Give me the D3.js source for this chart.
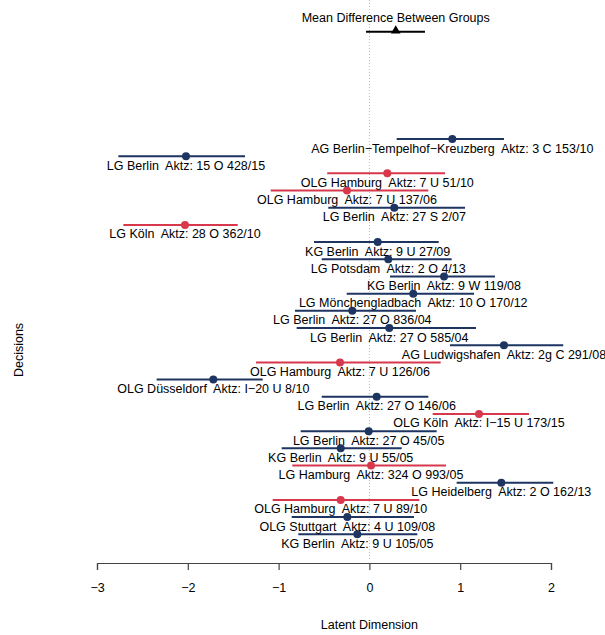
<!DOCTYPE html>
<html>
<head>
<meta charset="utf-8">
<script src="https://cdn.jsdelivr.net/npm/d3@7"></script>
<style>
  body { margin: 0; background: #fff; }
  svg text { font-family: "Liberation Sans", Arial, Helvetica, sans-serif; }
</style>
</head>
<body>
<svg id="chart" width="605" height="635"></svg>
<script>
// Court decisions, top to bottom
const courts = [
  "AG Berlin−Tempelhof−Kreuzberg", "LG Berlin", "OLG Hamburg", "OLG Hamburg",
  "LG Berlin", "LG Köln", "KG Berlin", "LG Potsdam", "KG Berlin",
  "LG Mönchengladbach", "LG Berlin", "LG Berlin", "AG Ludwigshafen",
  "OLG Hamburg", "OLG Düsseldorf", "LG Berlin", "OLG Köln", "LG Berlin",
  "KG Berlin", "LG Hamburg", "LG Heidelberg", "OLG Hamburg", "OLG Stuttgart",
  "KG Berlin"
];
const fileNumbers = [
  "3 C 153/10", "15 O 428/15", "7 U 51/10", "7 U 137/06", "27 S 2/07",
  "28 O 362/10", "9 U 27/09", "2 O 4/13", "9 W 119/08", "10 O 170/12",
  "27 O 836/04", "27 O 585/04", "2g C 291/08", "7 U 126/06", "I−20 U 8/10",
  "27 O 146/06", "I−15 U 173/15", "27 O 45/05", "9 U 55/05", "324 O 993/05",
  "2 O 162/13", "7 U 89/10", "4 U 109/08", "9 U 105/05"
];
// Group membership: 1 = second group (red), 0 = first group (navy)
const group = [0, 0, 1, 1, 0, 1, 0, 0, 0, 0, 0, 0, 0, 1, 0, 0, 1, 0, 0, 1, 0, 1, 0, 0];
// Latent position estimates with interval bounds
const estimate = [
  0.913, -2.020, 0.197, -0.247, 0.274, -2.031, 0.091, 0.208, 0.822, 0.483,
  -0.188, 0.219, 1.482, -0.324, -1.719, 0.080, 1.207, -0.008, -0.316, 0.018,
  1.453, -0.316, -0.243, -0.133
];
const lower = [
  0.300, -2.765, -0.464, -1.087, -0.453, -2.710, -0.610, -0.525, 0.227, -0.250,
  -0.819, -0.801, 0.888, -1.249, -2.343, -0.525, 0.697, -0.757, -0.966, -0.849,
  0.961, -1.065, -0.856, -0.783
];
const upper = [
  1.482, -1.370, 0.833, 0.649, 1.053, -1.450, 0.763, 0.906, 1.383, 1.152,
  0.513, 1.174, 2.135, 0.785, -1.175, 0.649, 1.758, 0.741, 0.356, 0.844,
  2.025, 0.550, 0.491, 0.528
];
// Mean difference between the groups
const meanDiff = [0.290];
const meanDiffLower = [-0.037];
const meanDiffUpper = [0.612];
const xTicks = [-3, -2, -1, 0, 1, 2];

const groupColors = ["#1d3560", "#d7384c"];
const fontSize = 12.5;

const svg = d3.select("#chart");
const n = courts.length;

const x = d3.scaleLinear().domain([-3, 2]).range([97, 551]);
// rows numbered from the bottom; the summary row sits above them
const y = d3.scaleLinear().domain([1, n]).range([534.3, 139]);
const summaryRow = n + 6.24;

const rows = d3.range(n).map(i => ({
  court: courts[i], file: fileNumbers[i], g: group[i],
  est: estimate[i], lo: lower[i], hi: upper[i], pos: n - i
}));

// zero reference line
svg.append("line")
  .attr("x1", x(0)).attr("x2", x(0))
  .attr("y1", 0).attr("y2", 560)
  .attr("stroke", "#b8b8b8").attr("stroke-width", 1)
  .attr("stroke-dasharray", "1,2");

// intervals
svg.append("g").selectAll("line").data(rows).join("line")
  .attr("x1", d => x(d.lo)).attr("x2", d => x(d.hi))
  .attr("y1", d => y(d.pos)).attr("y2", d => y(d.pos))
  .attr("stroke", d => groupColors[d.g]).attr("stroke-width", 2);

// point estimates
svg.append("g").selectAll("circle").data(rows).join("circle")
  .attr("cx", d => x(d.est)).attr("cy", d => y(d.pos)).attr("r", 4)
  .attr("fill", d => groupColors[d.g]);

// labels centred below each estimate
svg.append("g").selectAll("text").data(rows).join("text")
  .attr("x", d => x(d.est)).attr("y", d => y(d.pos) + 13.5)
  .attr("text-anchor", "middle").attr("font-size", fontSize).attr("fill", "#000")
  .style("white-space", "pre")
  .text(d => d.court + "  Aktz: " + d.file);

// summary: mean difference
const sy = y(summaryRow);
svg.append("line")
  .attr("x1", x(meanDiffLower[0])).attr("x2", x(meanDiffUpper[0]))
  .attr("y1", sy).attr("y2", sy)
  .attr("stroke", "#000").attr("stroke-width", 2);
svg.append("path")
  .attr("d", d3.symbol(d3.symbolTriangle, 40)())
  .attr("transform", `translate(${x(meanDiff[0])},${sy - 1})`)
  .attr("fill", "#000");
svg.append("text")
  .attr("x", x(meanDiff[0])).attr("y", sy - 10)
  .attr("text-anchor", "middle").attr("font-size", fontSize)
  .text("Mean Difference Between Groups");

// x axis
const axis = svg.append("g")
  .attr("transform", "translate(0,563)")
  .call(d3.axisBottom(x).tickValues(xTicks).tickFormat(d3.format("d"))
    .tickSize(7).tickPadding(13));
axis.select(".domain").attr("stroke", "#444").attr("stroke-width", 1.2);
axis.selectAll(".tick line").attr("stroke", "#444").attr("stroke-width", 1.2);
axis.selectAll(".tick text").attr("font-size", fontSize).attr("fill", "#000")
  .attr("font-family", "Liberation Sans, Arial, sans-serif");

svg.append("text")
  .attr("x", x(0)).attr("y", 629)
  .attr("text-anchor", "middle").attr("font-size", fontSize)
  .text("Latent Dimension");

svg.append("text")
  .attr("transform", "translate(23,350) rotate(-90)")
  .attr("text-anchor", "middle").attr("font-size", fontSize)
  .text("Decisions");
</script>
</body>
</html>
